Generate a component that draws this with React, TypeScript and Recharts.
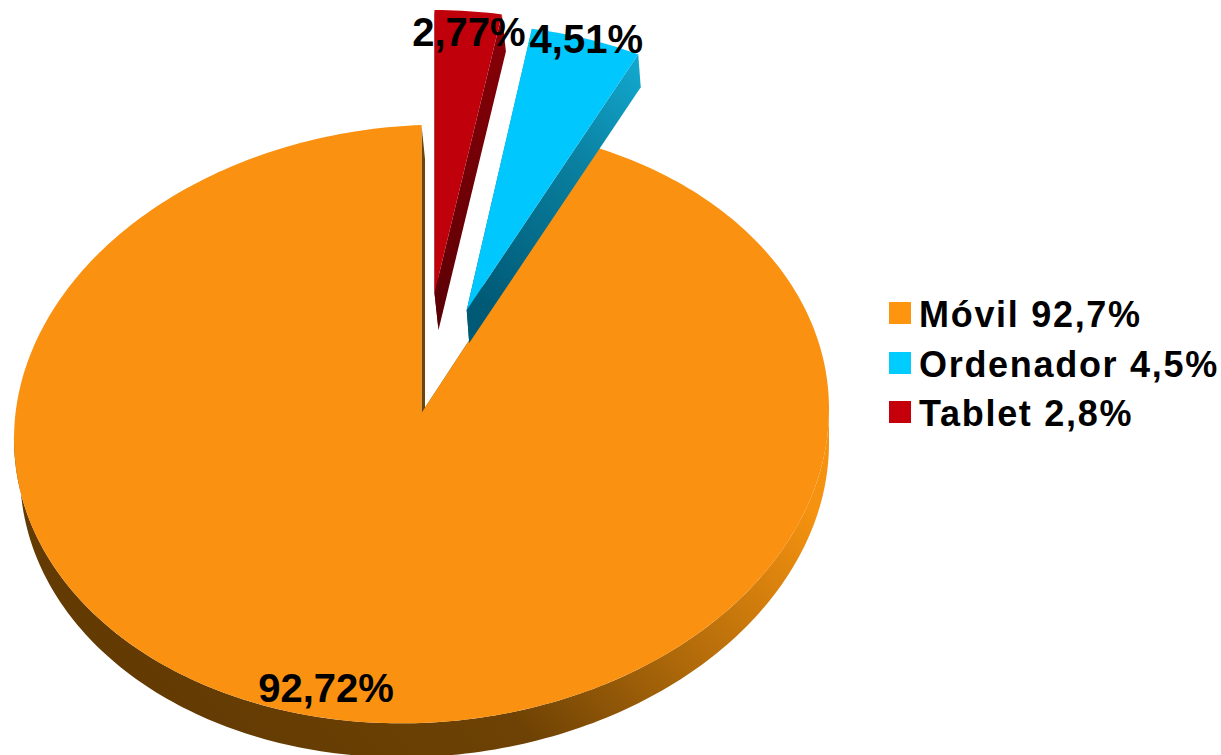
import React from "react";
import { PieChart, Pie, Legend, Cell } from "recharts";

// ---- data ----
const categories = ["Móvil 92,7%", "Ordenador 4,5%", "Tablet 2,8%"];
const shares = [92.72, 4.51, 2.77];
const sliceLabels = ["92,72%", "4,51%", "2,77%"];

// ---- styles ----
const FONT = '"Liberation Sans", Arial, sans-serif';
const legendColors = ["#FF950E", "#00CCFF", "#C5000B"];
const faceColors = ["#FA9110", "#00C8FE", "#C0000A"];
const wallStops = [
  [["0%", "#5F3802"], ["48%", "#6E4204"], ["72%", "#B06A0A"], ["100%", "#F5920F"]],
  [["0%", "#12A6CC"], ["40%", "#0A80A0"], ["100%", "#005A76"]],
  [["0%", "#8A0008"], ["100%", "#5A0005"]],
];
const TILT = 0.7337;
// exploded geometry per slice: rim shift, rim scale, apex shift, wall extrusion, label nudge,
// ellipse shear and perspective warp of the rim angle
const geom = [
  { rx: 0, ry: 0, s: 1, ax: 0, ay: -11, ex: 3.5, ey: 34, sx: 6, lx: -3, ly: -27.5, shear: 0.0368, warp: 0.037 },
  { rx: 41.8, ry: -109, s: 0.972, ax: 45.2, ay: -114, ex: 2.5, ey: 33, sx: 0, lx: 0, ly: 0, shear: 0, warp: 0 },
  { rx: 13, ry: -128.4, s: 0.955, ax: 13, ay: -131, ex: 4, ey: 37, sx: 0, lx: 0.6, ly: 21, shear: 0, warp: 0 },
];

const chartData = categories.map((name, i) => ({ name, value: shares[i], label: sliceLabels[i] }));

const rad = (d: number) => (d * Math.PI) / 180;

function Slice3D(props: any) {
  const { cx, cy, outerRadius, startAngle, endAngle, fill, index } = props;
  const g = geom[index] ?? geom[0];
  const CX = cx + g.rx;
  const CY = cy + g.ry;
  const RX = outerRadius * g.s;
  const RY = outerRadius * TILT * g.s;
  const at = (a: number) => {
    const u0 = Math.cos(rad(a));
    const v0 = Math.sin(rad(a));
    const u = u0 / (1 + g.warp * v0);
    const v = (v0 < 0 ? -1 : 1) * Math.sqrt(Math.max(0, 1 - u * u));
    return { u, x: CX + RX * u, y: CY - RY * v - RX * g.shear * u };
  };
  const fmt = (x: number, y: number) => `${x.toFixed(2)} ${y.toFixed(2)}`;
  const arc = (a0: number, a1: number, ox = 0, oy = 0, sx = 0) => {
    const n = Math.max(1, Math.ceil(Math.abs(a1 - a0)));
    const pts: string[] = [];
    for (let i = 0; i <= n; i++) {
      const p = at(a0 + ((a1 - a0) * i) / n);
      pts.push(fmt(p.x + ox + Math.max(0, -p.u) * sx, p.y + oy));
    }
    return pts;
  };
  const apexX = cx + g.ax;
  const apexY = cy + g.ay;
  const face = `M${apexX} ${apexY}L${arc(startAngle, endAngle).join("L")}Z`;

  const cut = (a: number) => {
    const p = at(a);
    return `M${apexX} ${apexY}L${fmt(p.x, p.y)}L${fmt(p.x + g.ex, p.y + g.ey)}L${apexX + g.ex} ${apexY + g.ey}Z`;
  };

  // visible outer wall: the part of the arc in the lower half
  const a0 = Math.max(startAngle, 180);
  const a1 = Math.min(endAngle, 360);
  const rim =
    a1 > a0
      ? `M${arc(a0, a1).join("L")}L${arc(a1, a0, 0, g.ey, g.sx).join("L")}Z`
      : null;
  const id = `wall-${index}`;
  const sliver = index === 0 ? "#6E4507" : `url(#${id})`;
  return (
    <g>
      <defs>
        <linearGradient
          id={id}
          x1={index === 0 ? "0" : index === 1 ? "0.9" : "0.5"}
          y1={index === 0 ? "0.75" : "0"}
          x2={index === 0 ? "1" : index === 1 ? "0.35" : "0.5"}
          y2={index === 0 ? "0.35" : "1"}
        >
          {wallStops[index].map(([o, c]) => (
            <stop key={o} offset={o} stopColor={c} />
          ))}
        </linearGradient>
      </defs>
      {rim && <path d={rim} fill={`url(#${id})`} />}
      <path d={cut(startAngle)} fill={sliver} />
      <path d={cut(endAngle)} fill={sliver} />
      <path d={face} fill={fill} />
    </g>
  );
}

function SliceLabel(props: any) {
  const { cx, cy, outerRadius, midAngle, index } = props;
  const g = geom[index];
  const x = cx + g.rx + outerRadius * g.s * Math.cos(rad(midAngle)) + g.lx;
  const y = cy + g.ry - outerRadius * TILT * g.s * Math.sin(rad(midAngle)) + g.ly;
  return (
    <text x={x} y={y} textAnchor="middle" dominantBaseline="central" fontFamily={FONT} fontWeight={700} fontSize={40} fill="#000">
      {sliceLabels[index]}
    </text>
  );
}

function LegendBox() {
  return (
    <div style={{ fontFamily: FONT }}>
      {categories.map((c, i) => (
        <div key={c} style={{ display: "flex", alignItems: "center", height: 49.5 }}>
          <span style={{ width: 22, height: 22, background: legendColors[i], display: "inline-block", marginRight: 8 }} />
          <span style={{ fontSize: 36, fontWeight: 700, letterSpacing: 1.7, whiteSpace: "nowrap", color: "#000", position: "relative", top: 2 }}>{c}</span>
        </div>
      ))}
    </div>
  );
}

export default function App() {
  return (
    <div style={{ position: "absolute", left: 0, top: 0, width: 1221, height: 755, overflow: "hidden" }}>
      <PieChart width={1221} height={755} margin={{ top: 0, right: 0, bottom: 0, left: 0 }}>
        <Pie
          data={chartData}
          dataKey="value"
          nameKey="name"
          cx={421.5}
          cy={424}
          innerRadius={0}
          outerRadius={407.5}
          startAngle={90}
          endAngle={450}
          stroke="none"
          isAnimationActive={false}
          shape={Slice3D}
          label={SliceLabel}
          labelLine={false}
        >
          {chartData.map((d, i) => (
            <Cell key={d.name} fill={faceColors[i]} />
          ))}
        </Pie>
        <Legend
          layout="vertical"
          align="right"
          verticalAlign="middle"
          content={LegendBox}
          wrapperStyle={{ position: "absolute", left: 889, top: 288.5, width: 332, right: "auto", bottom: "auto" }}
        />
      </PieChart>
    </div>
  );
}
